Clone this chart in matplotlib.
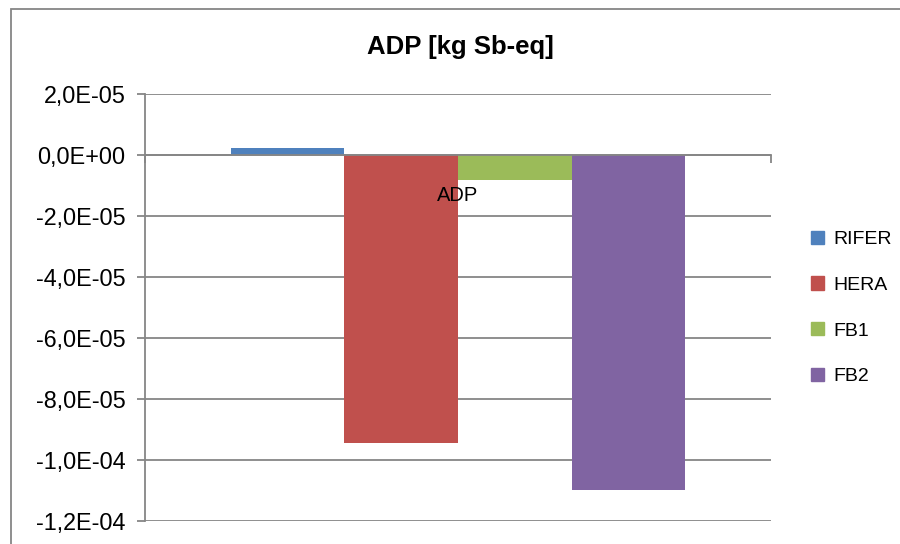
import matplotlib
matplotlib.use("Agg")
import matplotlib.pyplot as plt
from matplotlib.patches import Patch, Rectangle
from matplotlib.ticker import FuncFormatter, MultipleLocator

# data
category = "ADP"
series = ["RIFER", "HERA", "FB1", "FB2"]
values = [2.4e-06, -9.45e-05, -8.2e-06, -1.097e-04]
colors = ["#4F81BD", "#C0504D", "#9BBB59", "#8064A2"]

plt.rcParams["font.family"] = ["Liberation Sans", "DejaVu Sans"]
grey = "#868686"

fig = plt.figure(figsize=(9, 5.44), dpi=100)
ax = fig.add_axes([145 / 900, 1 - 521 / 544, 626 / 900, 427 / 544])

width = 0.1817
for i, (name, v, c) in enumerate(zip(series, values, colors)):
    ax.bar((i - 1.5) * width, v, width=width, color=c, zorder=3, label=name)

ax.set_xlim(-0.5, 0.5)
ax.set_ylim(-1.2e-4, 2e-5)
ax.yaxis.set_major_locator(MultipleLocator(2e-5))
ax.yaxis.set_major_formatter(FuncFormatter(lambda v, _: f"{v:.1E}".replace(".", ",")))
ax.grid(axis="y", color=grey, lw=1.3, zorder=1)

for s in ["top", "right"]:
    ax.spines[s].set_visible(False)
ax.spines["left"].set_color(grey)
ax.spines["left"].set_linewidth(1.3)
ax.spines["bottom"].set_position(("data", 0))
ax.spines["bottom"].set_color(grey)
ax.spines["bottom"].set_linewidth(1.3)
ax.spines["bottom"].set_zorder(4)

ax.set_xticks([-0.5, 0.5])
ax.set_xticklabels(["", ""])
ax.set_xticks([0], minor=True)
ax.set_xticklabels([category], minor=True)
ax.tick_params(axis="x", which="major", direction="out", length=6, width=1.3, color=grey)
ax.tick_params(axis="x", which="minor", length=0, pad=22, labelsize=14.5)
ax.tick_params(axis="y", direction="out", length=6, width=1.3, color=grey, labelsize=16.8, pad=8)
ax.xaxis.set_zorder(5)  # category label sits on top of the bars

fig.suptitle("ADP [kg Sb-eq]", x=460 / 900, y=1 - 47 / 544, va="center",
             fontsize=18.5, fontweight="bold")

handles = [Patch(color=c, label=n) for n, c in zip(series, colors)]
fig.legend(handles=handles, loc="center left", bbox_to_anchor=(811 / 900, 1 - 308 / 544),
           frameon=False, fontsize=14, handlelength=0.68, handleheight=0.68,
           handletextpad=0.45, labelspacing=1.45, borderpad=0, borderaxespad=0)

# outer chart-area border (cropped at right and bottom)
fig.patches.append(Rectangle((10.5 / 900, -0.1), 1.2, 1.1 - 9 / 544,
                             transform=fig.transFigure, fill=False,
                             edgecolor=grey, lw=1.3))

fig.savefig("out.png", dpi=100)
